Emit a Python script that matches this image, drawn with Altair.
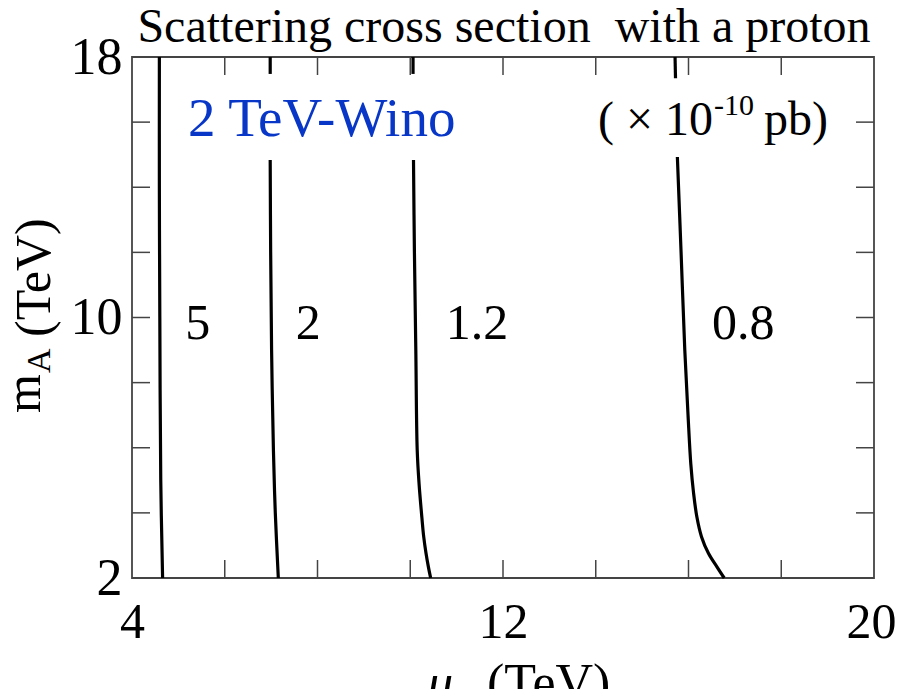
import altair as alt
import pandas as pd

# ---------------- data ----------------
x_label_values = [4, 12, 20]
y_label_values = [2, 10, 18]
x_minor_ticks = [6, 8, 10, 12, 14, 16, 18]
y_minor_ticks = [4, 6, 8, 10, 12, 14, 16]

# contour "5"
c5_mu = [4.59, 4.59, 4.60, 4.62, 4.66]
c5_mA = [18.0, 14.0, 10.0, 5.0, 2.0]
# contour "2" (top stub + main part)
c2_top_mu = [6.98, 6.98]
c2_top_mA = [18.0, 17.48]
c2_mu = [6.98, 6.99, 7.01, 7.05, 7.09, 7.155]
c2_mA = [14.84, 12.0, 9.0, 5.9, 4.0, 2.0]
# contour "1.2"
c12_top_mu = [10.06, 10.06]
c12_top_mA = [18.0, 17.48]
c12_mu = [10.07, 10.09, 10.12, 10.15, 10.19, 10.25, 10.29, 10.34, 10.39, 10.44]
c12_mA = [14.84, 12.0, 9.0, 5.93, 4.9, 3.87, 3.27, 2.76, 2.35, 2.0]
# contour "0.8"
c08_top_mu = [15.71, 15.72]
c08_top_mA = [18.0, 17.35]
c08_mu = [15.76, 15.84, 15.92, 15.99, 16.05, 16.11, 16.18, 16.28, 16.43, 16.61, 16.77]
c08_mA = [14.93, 12.0, 9.0, 7.0, 5.5, 4.6, 3.88, 3.27, 2.76, 2.35, 2.0]

contour_labels = ["5", "2", "1.2", "0.8"]
contour_label_mu = [5.42, 7.80, 11.44, 17.18]
contour_label_mA = [9.8, 9.8, 9.8, 9.8]

# ---------------- build tables ----------------
segments = [
    ("5", "a", c5_mu, c5_mA),
    ("2", "t", c2_top_mu, c2_top_mA),
    ("2", "a", c2_mu, c2_mA),
    ("1.2", "t", c12_top_mu, c12_top_mA),
    ("1.2", "a", c12_mu, c12_mA),
    ("0.8", "t", c08_top_mu, c08_top_mA),
    ("0.8", "a", c08_mu, c08_mA),
]
rows = []
for name, seg, mus, mas in segments:
    for i, (m, a) in enumerate(zip(mus, mas)):
        rows.append({"mu": m, "mA": a, "seg": name + seg, "idx": i})
lines_df = pd.DataFrame(rows)
labels_df = pd.DataFrame({"mu": contour_label_mu, "mA": contour_label_mA, "t": contour_labels})
xt_df = pd.DataFrame({"mu": x_minor_ticks})
yt_df = pd.DataFrame({"mA": y_minor_ticks})

W, H = 742, 521
FONT = "Liberation Serif"
TICK_COLOR = "#444444"
TL = 18

xscale = alt.Scale(domain=[4, 20], nice=False, zero=False)
yscale = alt.Scale(domain=[2, 18], nice=False, zero=False)

xaxis = alt.Axis(values=x_label_values, ticks=False, domain=False, grid=False,
                 labelFont=FONT, labelFontSize=50, labelColor="black",
                 labelPadding=19, labelFlush=False, title=None, format="d",
                 labelOffset={"condition": {"test": "datum.value == 20", "value": -3},
                              "value": 0})
yaxis = alt.Axis(values=y_label_values, ticks=False, domain=False, grid=False,
                 labelFont=FONT, labelFontSize=52, labelColor="black",
                 labelPadding=10, labelFlush=False, title=None, format="d")

X = alt.X("mu:Q", scale=xscale, axis=xaxis)
Y = alt.Y("mA:Q", scale=yscale, axis=yaxis)

base_lines = alt.Chart(lines_df).mark_line(color="black", strokeWidth=3.2,
                                           interpolate="catmull-rom").encode(
    x=X, y=Y,
    detail="seg:N",
    order=alt.Order("idx:Q"),
)

tick_bottom = alt.Chart(xt_df).mark_rule(color=TICK_COLOR, strokeWidth=1.5).encode(
    x=X, y=alt.value(H), y2=alt.value(H - TL))
tick_top = alt.Chart(xt_df).mark_rule(color=TICK_COLOR, strokeWidth=1.5).encode(
    x=X, y=alt.value(0), y2=alt.value(TL))
tick_left = alt.Chart(yt_df).mark_rule(color=TICK_COLOR, strokeWidth=1.5).encode(
    y=Y, x=alt.value(0), x2=alt.value(TL))
tick_right = alt.Chart(yt_df).mark_rule(color=TICK_COLOR, strokeWidth=1.5).encode(
    y=Y, x=alt.value(W - TL), x2=alt.value(W))

contour_text = alt.Chart(labels_df).mark_text(font=FONT, fontSize=50, color="black",
                                              baseline="middle", align="center").encode(
    x=X, y=Y, text="t:N",
)

one = pd.DataFrame({"k": [0]})


def note(text, x, y, size, align="left", baseline="alphabetic", color="black",
         angle=0, style="normal"):
    return alt.Chart(one).mark_text(
        text=text, font=FONT, fontSize=size, align=align, baseline=baseline,
        color=color, angle=angle, fontStyle=style,
    ).encode(x=alt.value(x), y=alt.value(y))


notes = [
    note("Scattering cross section\u00a0 with a proton", 372, -15, 48, align="center"),
    note("2 TeV-Wino", 56, 79, 55, color="#0837c8"),
    note("( \u00d7 10", 581, 78, 48, align="right"),
    note("-10", 582, 58, 30),
    note("pb)", 696, 78, 48, align="right"),
    note("\u03bc", 308, 643, 52, align="center", style="italic"),
    note("(TeV)", 355, 643, 52),
    note("m", -92, 356, 50, angle=270),
    note("A", -82, 316, 34, angle=270),
    note("(TeV)", -82, 280, 50, angle=270),
]

chart = alt.layer(
    tick_bottom, tick_top, tick_left, tick_right, base_lines, contour_text, *notes
).properties(
    width=W, height=H,
    padding={"left": 124, "top": 49, "right": 23, "bottom": 111},
    autosize=alt.AutoSizeParams(type="none"),
    background="white",
).configure_view(stroke="#444444", strokeWidth=1.8)

chart.save("out.html", embed_options={"renderer": "svg", "actions": False})
